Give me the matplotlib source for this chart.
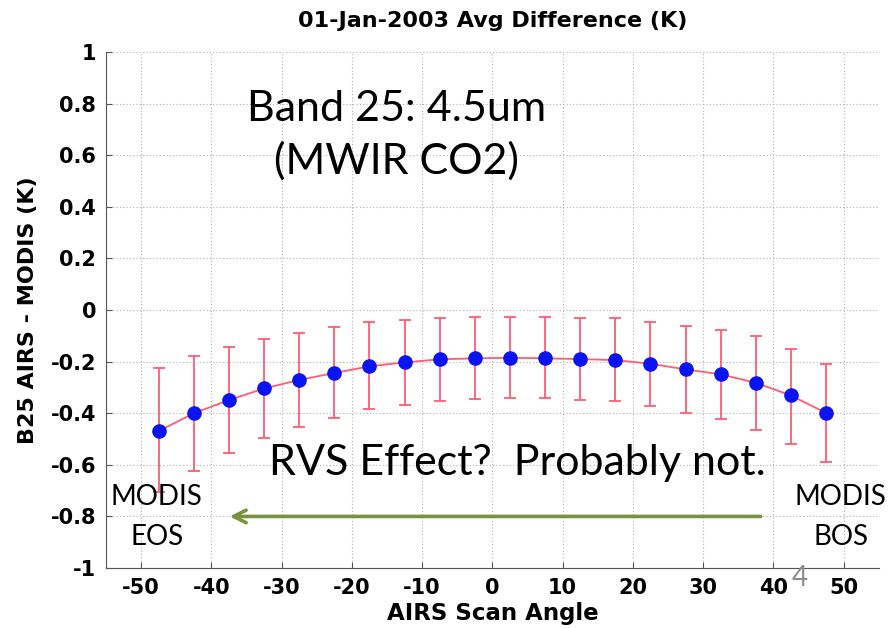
import matplotlib
matplotlib.use("Agg")
import matplotlib.pyplot as plt

plt.rcParams["axes.unicode_minus"] = False

# scan angle bins and AIRS - MODIS mean difference with error bar ends
scan_angle = [-47.5, -42.5, -37.5, -32.5, -27.5, -22.5, -17.5, -12.5, -7.5, -2.5,
              2.5, 7.5, 12.5, 17.5, 22.5, 27.5, 32.5, 37.5, 42.5, 47.5]
avg_diff = [-0.469, -0.400, -0.349, -0.304, -0.271, -0.244, -0.218, -0.203, -0.191, -0.187,
            -0.185, -0.187, -0.190, -0.194, -0.208, -0.230, -0.249, -0.282, -0.331, -0.399]
err_top = [-0.225, -0.178, -0.143, -0.114, -0.090, -0.067, -0.047, -0.037, -0.030, -0.026,
           -0.026, -0.026, -0.031, -0.032, -0.045, -0.062, -0.076, -0.100, -0.150, -0.208]
err_bottom = [-0.704, -0.623, -0.554, -0.494, -0.452, -0.420, -0.385, -0.368, -0.353, -0.344,
              -0.342, -0.342, -0.349, -0.354, -0.373, -0.398, -0.422, -0.464, -0.518, -0.589]

x_ticks = [-50, -40, -30, -20, -10, 0, 10, 20, 30, 40, 50]
y_ticks = [-1, -0.8, -0.6, -0.4, -0.2, 0, 0.2, 0.4, 0.6, 0.8, 1]
y_labels = ["-1", "-0.8", "-0.6", "-0.4", "-0.2", "0", "0.2", "0.4", "0.6", "0.8", "1"]

lower = [m - b for m, b in zip(avg_diff, err_bottom)]
upper = [t - m for m, t in zip(avg_diff, err_top)]

fig = plt.figure(figsize=(8.93, 6.28), dpi=100)
ax = fig.add_axes([0.1187, 0.0955, 0.8653, 0.8215])

red = "#ff5c74"
ax.errorbar(scan_angle, avg_diff, yerr=[lower, upper], fmt="none",
            ecolor=red, elinewidth=1.3, capsize=4.3, capthick=1.3, zorder=2)
ax.plot(scan_angle, avg_diff, color=red, lw=1.3, zorder=3)
ax.plot(scan_angle, avg_diff, "o", color="#0a14f0", ms=9.5, mec="#0a14f0", zorder=4)

ax.set_xlim(-55, 55)
ax.set_ylim(-1, 1)
ax.set_xticks(x_ticks)
ax.set_yticks(y_ticks)
ax.set_yticklabels(y_labels)
ax.grid(True, ls=(0, (1, 2)), color="#b0b0b0", lw=0.8)
ax.tick_params(direction="in", length=4, color="#555555", pad=7)
for lab in ax.get_xticklabels() + ax.get_yticklabels():
    lab.set_fontweight("bold")
    lab.set_fontsize(15)
for side in ["top", "right"]:
    ax.spines[side].set_visible(False)
for side in ["left", "bottom"]:
    ax.spines[side].set_color("#555555")

ax.set_title("01-Jan-2003 Avg Difference (K)", fontweight="bold", fontsize=16, pad=18)
ax.set_xlabel("AIRS Scan Angle", fontweight="bold", fontsize=16.5, labelpad=3)
ax.set_ylabel("B25 AIRS - MODIS (K)", fontweight="bold", fontsize=16, labelpad=9)

# slide annotations
note = dict(fontfamily="Lato", color="black", ha="center", va="center")
ax.text(-13.7, 0.779, "Band 25: 4.5um", fontsize=31, **note)
ax.text(-13.7, 0.578, "(MWIR CO2)", fontsize=31, **note)
ax.text(3.5, -0.593, "RVS Effect?  Probably not.", fontsize=31, **note)
ax.text(-47.8, -0.725, "MODIS", fontsize=20, **note)
ax.text(-47.8, -0.878, "EOS", fontsize=20, **note)
ax.text(49.6, -0.725, "MODIS", fontsize=20, **note)
ax.text(49.6, -0.878, "BOS", fontsize=20, **note)
ax.annotate("", xy=(-37.8, -0.8), xytext=(38.6, -0.8),
            arrowprops=dict(arrowstyle="->,head_length=0.9,head_width=0.45",
                            color="#77933c", lw=2.6))
fig.text(800 / 893, 1 - 578 / 628, "4", fontfamily="Lato", fontsize=20,
         color="#8c8c8c", ha="center", va="center")

fig.savefig("out.png", dpi=100)
